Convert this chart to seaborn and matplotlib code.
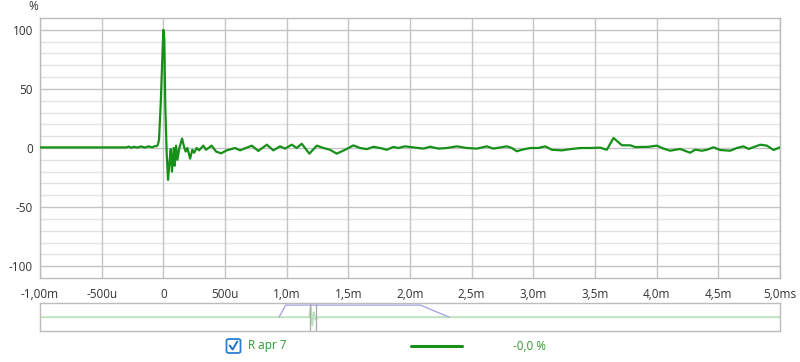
import numpy as np
import pandas as pd
import matplotlib
matplotlib.use("Agg")
import matplotlib.pyplot as plt
from matplotlib.patches import FancyBboxPatch
from matplotlib.lines import Line2D
import seaborn as sns

# ---- data (time in ms, amplitude in %) ----
time_ms = [-1.0, -0.6, -0.35, -0.3, -0.28, -0.26, -0.24, -0.21, -0.18, -0.15,
           -0.12, -0.09, -0.07, -0.055, -0.045, -0.035, -0.021, 0.0, 0.008, 0.016,
           0.027, 0.038, 0.049, 0.06, 0.07, 0.084, 0.092, 0.103, 0.114, 0.13,
           0.152, 0.168, 0.181, 0.195, 0.217, 0.235, 0.25, 0.27, 0.29, 0.324,
           0.346, 0.392, 0.427, 0.468, 0.514, 0.582, 0.622, 0.717, 0.770, 0.839,
           0.892, 0.946, 0.987, 1.041, 1.082, 1.122, 1.184, 1.244, 1.298, 1.352,
           1.406, 1.474, 1.541, 1.595, 1.650, 1.703, 1.757, 1.812, 1.865, 1.906,
           1.960, 2.028, 2.109, 2.163, 2.230, 2.298, 2.380, 2.461, 2.542, 2.623,
           2.676, 2.785, 2.826, 2.866, 2.907, 2.975, 3.04, 3.096, 3.150, 3.231,
           3.298, 3.380, 3.461, 3.542, 3.596, 3.650, 3.718, 3.785, 3.826, 3.933,
           4.002, 4.055, 4.109, 4.190, 4.271, 4.312, 4.367, 4.407, 4.461, 4.515,
           4.596, 4.650, 4.704, 4.745, 4.840, 4.894, 4.948, 5.0]
amplitude = [0.5, 0.5, 0.5, 0.5, 1.2, 0.2, 1.0, 0.4, 1.3, 0.4,
             1.4, 0.5, 1.6, 1.5, 2.5, 7, 38, 100, 92, 35,
             -4, -27, -13, -1, -20, 0, -15, 2, -10, 0,
             8, 1, -3, 0, -9, -1.5, -4, 0, -2, 2,
             -1.5, 2, -3, -4.5, -2, 0, -2, 2, -2.5, 2.8,
             -2, 1.4, -0.5, 2.8, 0, 3.6, -4.8, 2, 0, -1.5,
             -4.8, -1.5, 2.2, 0, -1, 1, 0, -1.5, 0.9, 0,
             1.4, 0.5, -0.5, 1.1, -0.5, 0, 1.4, 0, -0.5, 1.4,
             -0.5, 1.4, 0, -2.8, -1.5, 0, 0, 1.4, -1.5, -2,
             -1, 0, 0, 0.3, -1.5, 8.5, 2.3, 2.3, 0.8, 1,
             2, -0.5, -2.3, -0.8, -4, -1.4, -2.3, -1.5, 0.6, -1.7,
             -2.3, 0, 1.4, -0.8, 2.8, 2, -1.7, 0.6]

x_ticks = [-1.0, -0.5, 0.0, 0.5, 1.0, 1.5, 2.0, 2.5, 3.0, 3.5, 4.0, 4.5, 5.0]
x_tick_labels = ["-1,00m", "-500u", "0", "500u", "1,0m", "1,5m", "2,0m", "2,5m",
                 "3,0m", "3,5m", "4,0m", "4,5m", "5,0ms"]
y_ticks = [-100, -50, 0, 50, 100]
y_tick_labels = ["-100", "-50", "0", "50", "100"]

# overview strip (percent of full measurement span)
ov_window_x = [32.3, 33.2, 51.4, 55.3]
ov_window_y = [0.0, 1.0, 1.0, 0.0]
ov_ir_x = [0.0, 36.4, 36.6, 36.8, 37.0, 37.2, 37.6, 100.0]
ov_ir_y = [0.0, 0.0, 0.9, -0.7, 0.4, -0.2, 0.0, 0.0]
ov_cursors = [36.5, 37.3]

legend_name = "R apr 7"
legend_value = "-0,0 %"

# ---- style ----
sns.set_theme(style="white")
plt.rcParams["font.family"] = ["Open Sans", "DejaVu Sans"]

GREEN = "#17901a"
TEXT = "#333333"

fig = plt.figure(figsize=(8.0, 3.62), dpi=100)
ax = fig.add_axes([40 / 800, 1 - 278 / 362, 740 / 800, 260 / 362])

df = pd.DataFrame({"t": time_ms, "v": amplitude})
sns.lineplot(data=df, x="t", y="v", ax=ax, color=GREEN, linewidth=1.6,
             estimator=None, sort=False, zorder=5)

ax.set_xlim(-1.0, 5.0)
ax.set_ylim(-110, 110)
ax.set_xlabel("")
ax.set_ylabel("")
ax.set_xticks(x_ticks)
ax.set_xticklabels(x_tick_labels)
ax.set_yticks(y_ticks)
ax.set_yticklabels(y_tick_labels)
ax.set_yticks(np.arange(-100, 101, 10), minor=True)
ax.tick_params(axis="both", which="both", length=0, labelsize=8.5,
               colors=TEXT, pad=5)
ax.tick_params(axis="x", pad=7)
ax.grid(False)
for yv in np.arange(-100, 101, 10):
    major = yv % 50 == 0
    ax.axhline(yv, color="#c4c4c4" if major else "#e2e2e2", lw=1.0, zorder=1)
for xv in x_ticks:
    ax.axvline(xv, color="#c4c4c4", lw=1.0, zorder=1)
for s in ax.spines.values():
    s.set_color("#bcbcbc")
    s.set_linewidth(1.0)

fig.text(33 / 800, 1 - 7 / 362, "%", ha="center", va="center",
         fontsize=8.5, color=TEXT)

# ---- overview strip ----
ov = fig.add_axes([40 / 800, 1 - 331 / 362, 740 / 800, 27.7 / 362])
ov.set_xlim(0, 100)
ov.set_ylim(-1.15, 1.15)
sns.lineplot(x=ov_ir_x, y=ov_ir_y, ax=ov, color="#bfe3bf", linewidth=1.4,
             estimator=None, sort=False)
sns.lineplot(x=ov_window_x, y=ov_window_y, ax=ov, color="#a8a8e6",
             linewidth=1.0, estimator=None, sort=False)
for cx in ov_cursors:
    ov.axvline(cx, color="#a8a8a8", lw=0.9)
ov.set_xticks([])
ov.set_yticks([])
ov.set_xlabel("")
ov.set_ylabel("")
for s in ov.spines.values():
    s.set_color("#bcbcbc")
    s.set_linewidth(1.0)

# ---- legend row ----
ly = 1 - 346 / 362
box = FancyBboxPatch((226.5 / 800, ly - 7 / 362), 14 / 800, 14 / 362,
                     boxstyle="round,pad=0,rounding_size=0.004",
                     transform=fig.transFigure, fc="white", ec="#2a7fd4",
                     lw=1.3)
fig.patches.append(box)
fig.lines.append(Line2D([229.8 / 800, 232.6 / 800, 237.3 / 800],
                        [ly + 0.5 / 362, ly - 3.5 / 362, ly + 4.5 / 362],
                        transform=fig.transFigure, color="#1f6fc8", lw=1.4))
fig.text(248 / 800, ly, legend_name, ha="left", va="center",
         fontsize=8.5, color="#2e9a2e")
fig.lines.append(Line2D([411 / 800, 462 / 800], [ly, ly],
                        transform=fig.transFigure, color=GREEN, lw=2.2))
fig.text(513 / 800, ly, legend_value, ha="left", va="center",
         fontsize=8.5, color="#2e9a2e")

fig.savefig("out.png", dpi=100, facecolor="white")
